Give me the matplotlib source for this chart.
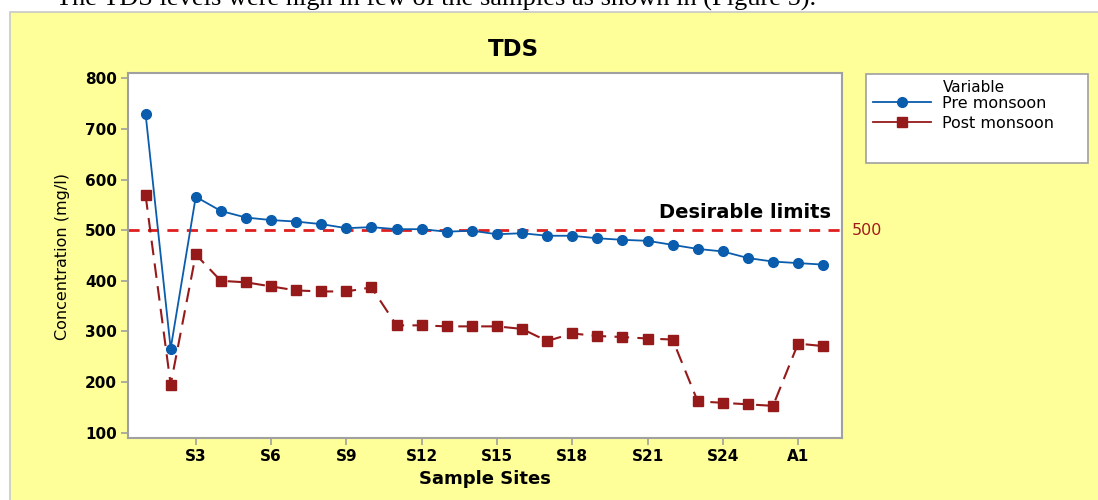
import matplotlib
matplotlib.use("Agg")
import matplotlib.pyplot as plt
from matplotlib.patches import Rectangle
from matplotlib.lines import Line2D

sites = [f"S{i}" for i in range(1, 27)] + ["A1", "A2"]
pre_monsoon = [730, 266, 566, 538, 525, 520, 517, 512, 504, 506, 502, 502, 497, 499,
               492, 494, 489, 489, 484, 481, 479, 471, 463, 458, 445, 438, 435, 432]
post_monsoon = [569, 195, 452, 400, 397, 389, 381, 379, 379, 387, 312, 312, 310, 310,
                310, 305, 281, 296, 291, 289, 286, 284, 162, 159, 156, 153, 276, 271]
limit_value = 500
tick_labels = ["S3", "S6", "S9", "S12", "S15", "S18", "S21", "S24", "A1"]
y_ticks = [100, 200, 300, 400, 500, 600, 700, 800]

W, H = 1098, 500
plt.rcParams['font.family'] = ['DejaVu Sans']
fig = plt.figure(figsize=(W / 100, H / 100), dpi=100)
fig.patch.set_facecolor("white")

def fx(px):
    return px / W

def fy(py):
    return 1 - py / H

yellow = "#FFFF99"
# yellow background panel
fig.patches.append(Rectangle((fx(10), -0.01), 1 - fx(10) + 0.01, fy(12) + 0.01, transform=fig.transFigure,
                             facecolor=yellow, edgecolor="#C8C8C8", linewidth=1.2, zorder=0))

# caption text at top (clipped by the image edge as in the source)
fig.text(fx(56), fy(6), "The TDS levels were high in few of the samples as shown in (Figure 5).",
         family="Liberation Serif", fontsize=19, va="baseline", ha="left", color="black")

ax = fig.add_axes([fx(128), fy(438), fx(842) - fx(128), fy(73) - fy(438)])
ax.set_zorder(2)
ax.set_facecolor("white")

x = list(range(1, len(sites) + 1))
blue = "#0A5CAD"
dred = "#961A1A"
ax.axhline(limit_value, color="#E01E1E", linestyle=(0, (4, 3)), linewidth=2.0, zorder=1)
ax.plot(x, pre_monsoon, color=blue, linewidth=1.3, marker="o", markersize=7,
        markeredgecolor=blue, zorder=3)
ax.plot(x, post_monsoon, color=dred, linewidth=1.5, linestyle=(0, (7, 4)), marker="s",
        markersize=7, markeredgecolor=dred, zorder=3)

ax.set_xlim(0.3, 28.75)
ax.set_ylim(89.5, 810.5)
tick_pos = [sites.index(t) + 1 for t in tick_labels]
ax.set_xticks(tick_pos)
ax.set_xticklabels(tick_labels)
ax.set_yticks(y_ticks)
for lab in ax.get_xticklabels() + ax.get_yticklabels():
    lab.set_fontweight("bold")
    lab.set_fontsize(11)
ax.tick_params(axis="both", colors="#A0A0A0", labelcolor="black", length=5, width=1.2, pad=3)
for s in ax.spines.values():
    s.set_color("#A0A0A0")
    s.set_linewidth(1.5)

ax.text(0.985, limit_value + 17, "Desirable limits", transform=ax.get_yaxis_transform(),
        ha="right", va="bottom", fontsize=14, fontweight="semibold")
ax.text(1.013, limit_value, "500", transform=ax.get_yaxis_transform(), ha="left", va="center",
        fontsize=11.5, color="#A01A1C", clip_on=False)

fig.text(fx(513), fy(50), "TDS", ha="center", va="center", fontsize=16.5, fontweight="bold")
fig.text(fx(485), fy(479), "Sample Sites", ha="center", va="center", fontsize=13, fontweight="bold")
fig.text(fx(63), fy(256), "Concentration (mg/l)", ha="center", va="center", rotation=90,
         fontsize=11.5)

# legend box
fig.patches.append(Rectangle((fx(866), fy(163)), fx(1088) - fx(866), fy(74) - fy(163),
                             transform=fig.transFigure, facecolor="white", edgecolor="#A0A0A0",
                             linewidth=1.2, zorder=1))
fig.text(fx(943), fy(88), "Variable", ha="left", va="center", fontsize=11, zorder=3)
handles = [Line2D([], [], color=blue, linewidth=1.3, marker="o", markersize=7),
           Line2D([], [], color=dred, linewidth=1.3, marker="s", markersize=7)]
leg = fig.legend(handles, ["Pre monsoon", "Post monsoon"], loc="upper left",
                 bbox_to_anchor=(fx(873), fy(96)), frameon=False, fontsize=11.5,
                 handlelength=3.6, handletextpad=0.7, labelspacing=0.3, borderpad=0.0,
                 borderaxespad=0)
leg.set_zorder(3)

fig.savefig("out.png", dpi=100, facecolor=fig.get_facecolor())
